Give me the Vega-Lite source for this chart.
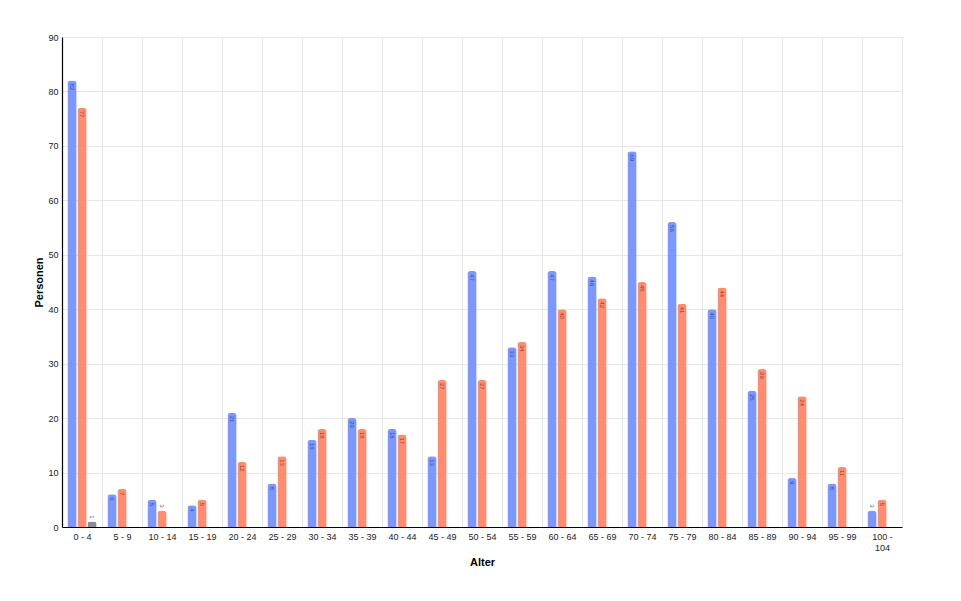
{
  "$schema": "https://vega.github.io/schema/vega-lite/v6.json",
  "width": 840,
  "height": 490,
  "autosize": {"type": "none"},
  "padding": {"left": 62, "top": 37, "right": 59, "bottom": 74},
  "background": "white",
  "config": {
    "font": "Liberation Sans",
    "view": {"stroke": null},
    "axis": {"labelFont": "Liberation Sans", "titleFont": "Liberation Sans"}
  },
  "data": {
    "values": [
      {"Alter": "0 - 4", "Gruppe": "Männlich", "Personen": 82},
      {"Alter": "0 - 4", "Gruppe": "Weiblich", "Personen": 77},
      {"Alter": "0 - 4", "Gruppe": "Divers", "Personen": 1},
      {"Alter": "5 - 9", "Gruppe": "Männlich", "Personen": 6},
      {"Alter": "5 - 9", "Gruppe": "Weiblich", "Personen": 7},
      {"Alter": "10 - 14", "Gruppe": "Männlich", "Personen": 5},
      {"Alter": "10 - 14", "Gruppe": "Weiblich", "Personen": 3},
      {"Alter": "15 - 19", "Gruppe": "Männlich", "Personen": 4},
      {"Alter": "15 - 19", "Gruppe": "Weiblich", "Personen": 5},
      {"Alter": "20 - 24", "Gruppe": "Männlich", "Personen": 21},
      {"Alter": "20 - 24", "Gruppe": "Weiblich", "Personen": 12},
      {"Alter": "25 - 29", "Gruppe": "Männlich", "Personen": 8},
      {"Alter": "25 - 29", "Gruppe": "Weiblich", "Personen": 13},
      {"Alter": "30 - 34", "Gruppe": "Männlich", "Personen": 16},
      {"Alter": "30 - 34", "Gruppe": "Weiblich", "Personen": 18},
      {"Alter": "35 - 39", "Gruppe": "Männlich", "Personen": 20},
      {"Alter": "35 - 39", "Gruppe": "Weiblich", "Personen": 18},
      {"Alter": "40 - 44", "Gruppe": "Männlich", "Personen": 18},
      {"Alter": "40 - 44", "Gruppe": "Weiblich", "Personen": 17},
      {"Alter": "45 - 49", "Gruppe": "Männlich", "Personen": 13},
      {"Alter": "45 - 49", "Gruppe": "Weiblich", "Personen": 27},
      {"Alter": "50 - 54", "Gruppe": "Männlich", "Personen": 47},
      {"Alter": "50 - 54", "Gruppe": "Weiblich", "Personen": 27},
      {"Alter": "55 - 59", "Gruppe": "Männlich", "Personen": 33},
      {"Alter": "55 - 59", "Gruppe": "Weiblich", "Personen": 34},
      {"Alter": "60 - 64", "Gruppe": "Männlich", "Personen": 47},
      {"Alter": "60 - 64", "Gruppe": "Weiblich", "Personen": 40},
      {"Alter": "65 - 69", "Gruppe": "Männlich", "Personen": 46},
      {"Alter": "65 - 69", "Gruppe": "Weiblich", "Personen": 42},
      {"Alter": "70 - 74", "Gruppe": "Männlich", "Personen": 69},
      {"Alter": "70 - 74", "Gruppe": "Weiblich", "Personen": 45},
      {"Alter": "75 - 79", "Gruppe": "Männlich", "Personen": 56},
      {"Alter": "75 - 79", "Gruppe": "Weiblich", "Personen": 41},
      {"Alter": "80 - 84", "Gruppe": "Männlich", "Personen": 40},
      {"Alter": "80 - 84", "Gruppe": "Weiblich", "Personen": 44},
      {"Alter": "85 - 89", "Gruppe": "Männlich", "Personen": 25},
      {"Alter": "85 - 89", "Gruppe": "Weiblich", "Personen": 29},
      {"Alter": "90 - 94", "Gruppe": "Männlich", "Personen": 9},
      {"Alter": "90 - 94", "Gruppe": "Weiblich", "Personen": 24},
      {"Alter": "95 - 99", "Gruppe": "Männlich", "Personen": 8},
      {"Alter": "95 - 99", "Gruppe": "Weiblich", "Personen": 11},
      {"Alter": "100 - 104", "Gruppe": "Männlich", "Personen": 3},
      {"Alter": "100 - 104", "Gruppe": "Weiblich", "Personen": 5}
    ]
  },
  "encoding": {
    "x": {
      "field": "Alter",
      "type": "nominal",
      "sort": null,
      "scale": {"paddingInner": 0, "paddingOuter": 0},
      "axis": {
        "title": "Alter",
        "titleFontSize": 11,
        "titleFontWeight": "bold",
        "titleColor": "#000",
        "titlePadding": 4,
        "labelAngle": 0,
        "labelFontSize": 9,
        "labelColor": "#222",
        "labelPadding": 5,
        "ticks": false,
        "tickBand": "extent",
        "grid": true,
        "gridColor": "#e6e6e6",
        "domainColor": "#000",
        "domainWidth": 1.2,
        "labelExpr": "datum.label == '100 - 104' ? ['100 -', '104'] : datum.label"
      }
    },
    "xOffset": {
      "field": "Gruppe",
      "type": "nominal",
      "scale": {"domain": ["Männlich", "Weiblich", "Divers"], "paddingInner": 0.08, "paddingOuter": 0.54}
    },
    "y": {
      "field": "Personen",
      "type": "quantitative",
      "scale": {"domain": [0, 90]},
      "axis": {
        "title": "Personen",
        "titleFontSize": 11,
        "titleFontWeight": "bold",
        "titleColor": "#000",
        "titlePadding": 3,
        "labelFontSize": 9,
        "labelColor": "#222",
        "labelPadding": 4,
        "labelOverlap": false,
        "ticks": false,
        "values": [0, 10, 20, 30, 40, 50, 60, 70, 80, 90],
        "gridColor": "#e6e6e6",
        "domainColor": "#000",
        "domainWidth": 1.2
      }
    }
  },
  "layer": [
    {
      "mark": {"type": "bar", "cornerRadiusTopLeft": 3, "cornerRadiusTopRight": 3},
      "encoding": {
        "color": {
          "field": "Gruppe",
          "type": "nominal",
          "scale": {"domain": ["Männlich", "Weiblich", "Divers"], "range": ["#7d97fd", "#fd8d72", "#8c8c96"]},
          "legend": null
        }
      }
    },
    {
      "layer": [
        {
          "transform": [{"filter": "datum.Personen > 3"}],
          "mark": {"type": "text", "angle": 90, "align": "left", "baseline": "middle", "dx": 3, "fontSize": 6},
          "encoding": {
            "text": {"field": "Personen", "type": "quantitative"}
          }
        },
        {
          "transform": [{"filter": "datum.Personen <= 3"}],
          "mark": {"type": "text", "angle": 90, "align": "right", "baseline": "middle", "dx": -3, "fontSize": 6},
          "encoding": {
            "text": {"field": "Personen", "type": "quantitative"}
          }
        }
      ],
      "encoding": {
        "color": {
          "field": "Gruppe",
          "type": "nominal",
          "scale": {"domain": ["Männlich", "Weiblich", "Divers"], "range": ["#3b4c94", "#8f3d29", "#555555"]},
          "legend": null
        }
      }
    }
  ],
  "resolve": {"scale": {"color": "independent"}}
}
